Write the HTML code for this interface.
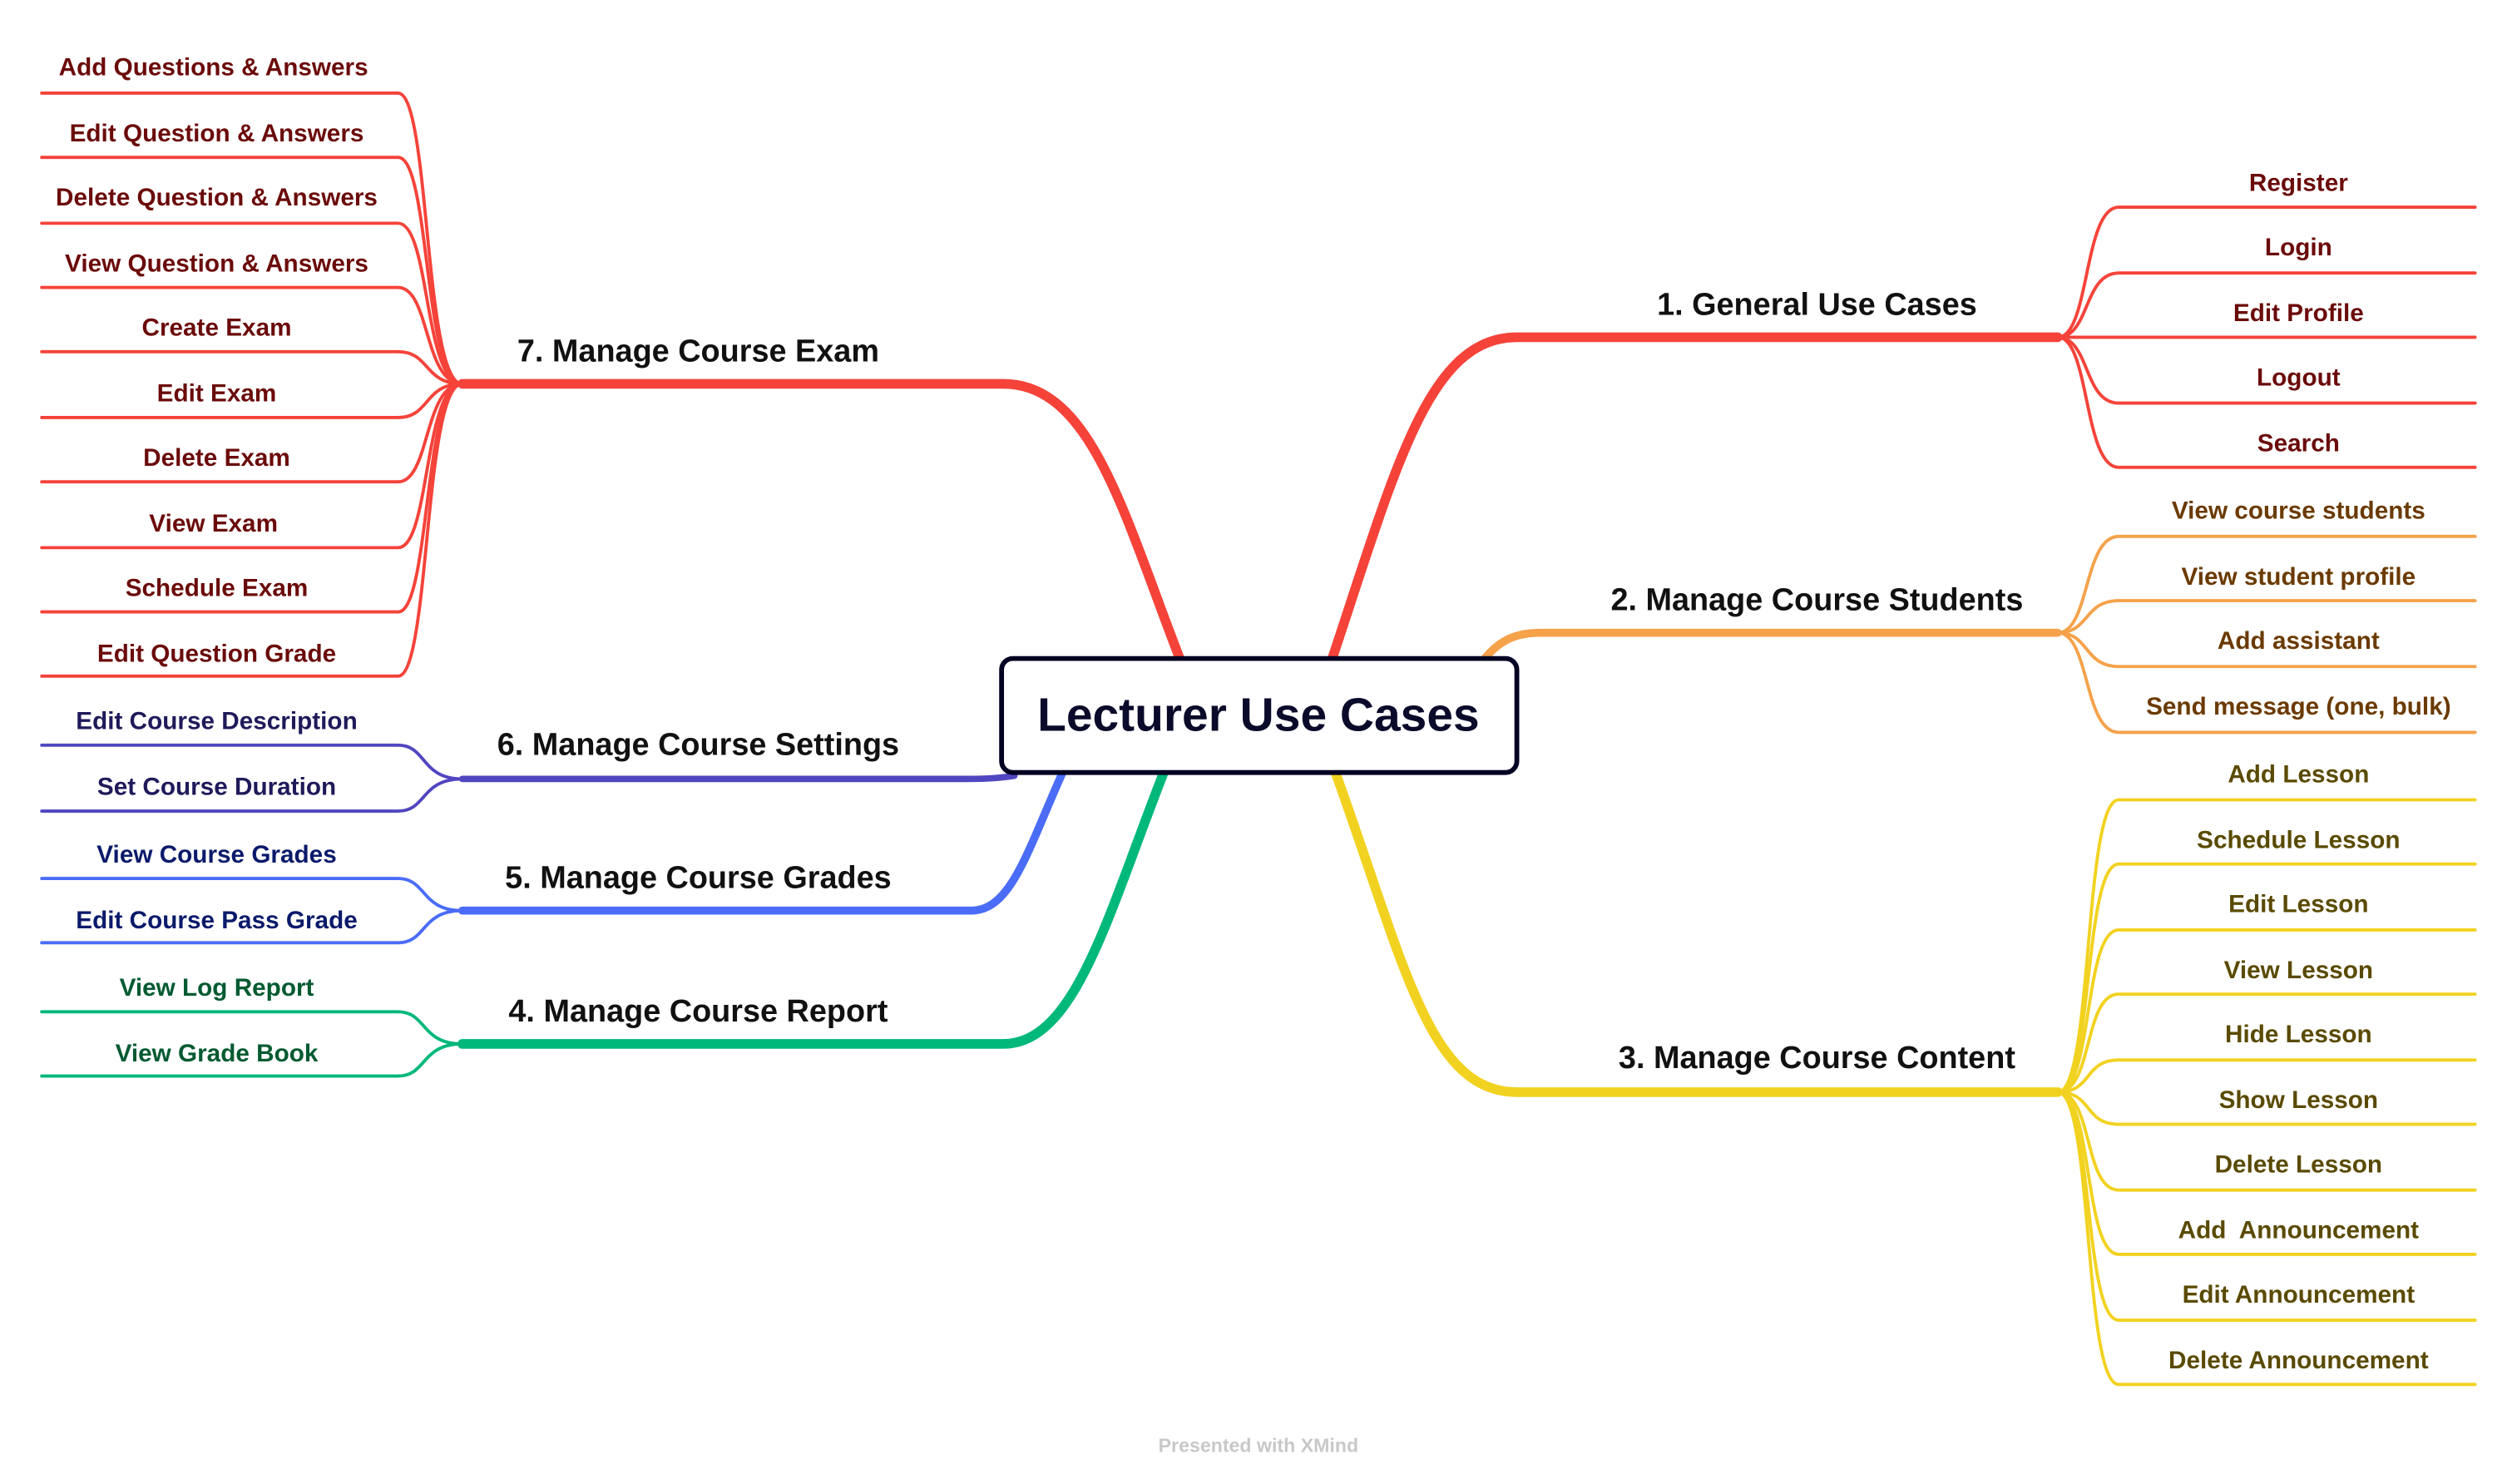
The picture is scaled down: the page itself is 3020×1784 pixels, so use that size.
<!DOCTYPE html>
<html><head><meta charset="utf-8"><style>
html,body{margin:0;padding:0;background:#fff}
svg{display:block}
text{font-family:"Liberation Sans",sans-serif;font-weight:bold;text-anchor:middle}
.l{font-size:15.4px}
.m{font-size:19.6px;fill:#111}
</style></head><body>
<svg width="3020" height="1784" viewBox="0 0 1565 924" preserveAspectRatio="none" xmlns="http://www.w3.org/2000/svg">
<g fill="none" stroke-linecap="round">
<path d="M830 410 C870 290,890 210,945 210 L1282 210" stroke="#f5433a" stroke-width="6"/>
<path d="M925 410 C935 398,945 394,960 394 L1282 394" stroke="#f5a24b" stroke-width="5"/>
<path d="M832 481 C875 600,890 680,945 680 L1282 680" stroke="#f2d220" stroke-width="6"/>
<path d="M735 410 C700 320,680 239,625 239 L288 239" stroke="#f5433a" stroke-width="6"/>
<path d="M632 483 C620 485,610 485,595 485 L288 485" stroke="#5046c0" stroke-width="4"/>
<path d="M662 481 C640 530,630 567,605 567 L288 567" stroke="#4a6cf7" stroke-width="5"/>
<path d="M725 481 C690 570,670 650,625 650 L288 650" stroke="#00b87a" stroke-width="6"/>
<g stroke="#f5433a" stroke-width="2">
<path d="M1282 210 C1302 210,1298 129,1320 129 L1542 129"/>
<path d="M1282 210 C1302 210,1298 170,1320 170 L1542 170"/>
<path d="M1282 210 L1542 210"/>
<path d="M1282 210 C1302 210,1298 251,1320 251 L1542 251"/>
<path d="M1282 210 C1302 210,1298 291,1320 291 L1542 291"/>
</g>
<g stroke="#f5a24b" stroke-width="2">
<path d="M1282 394 C1302 394,1298 334,1320 334 L1542 334"/>
<path d="M1282 394 C1302 394,1298 374,1320 374 L1542 374"/>
<path d="M1282 394 C1302 394,1298 415,1320 415 L1542 415"/>
<path d="M1282 394 C1302 394,1298 456,1320 456 L1542 456"/>
</g>
<g stroke="#f2d220" stroke-width="2">
<path d="M1282 680 C1304 680,1298 498,1320 498 L1542 498"/>
<path d="M1282 680 C1304 680,1298 538,1320 538 L1542 538"/>
<path d="M1282 680 C1304 680,1298 579,1320 579 L1542 579"/>
<path d="M1282 680 C1304 680,1298 619,1320 619 L1542 619"/>
<path d="M1282 680 C1304 680,1298 660,1320 660 L1542 660"/>
<path d="M1282 680 C1304 680,1298 700,1320 700 L1542 700"/>
<path d="M1282 680 C1304 680,1298 741,1320 741 L1542 741"/>
<path d="M1282 680 C1304 680,1298 781,1320 781 L1542 781"/>
<path d="M1282 680 C1304 680,1298 822,1320 822 L1542 822"/>
<path d="M1282 680 C1304 680,1298 862,1320 862 L1542 862"/>
</g>
<g stroke="#f5433a" stroke-width="2">
<path d="M26 58 L248 58 C268 58,264 239,288 239"/>
<path d="M26 98 L248 98 C268 98,264 239,288 239"/>
<path d="M26 139 L248 139 C268 139,264 239,288 239"/>
<path d="M26 179 L248 179 C268 179,264 239,288 239"/>
<path d="M26 219 L248 219 C268 219,264 239,288 239"/>
<path d="M26 260 L248 260 C268 260,264 239,288 239"/>
<path d="M26 300 L248 300 C268 300,264 239,288 239"/>
<path d="M26 341 L248 341 C268 341,264 239,288 239"/>
<path d="M26 381 L248 381 C268 381,264 239,288 239"/>
<path d="M26 421 L248 421 C268 421,264 239,288 239"/>
</g>
<g stroke="#5046c0" stroke-width="2">
<path d="M26 464 L248 464 C266 464,262 485,288 485"/>
<path d="M26 505 L248 505 C266 505,262 485,288 485"/>
</g>
<g stroke="#4a6cf7" stroke-width="2">
<path d="M26 547 L248 547 C266 547,262 567,288 567"/>
<path d="M26 587 L248 587 C266 587,262 567,288 567"/>
</g>
<g stroke="#00b87a" stroke-width="2">
<path d="M26 630 L248 630 C266 630,262 650,288 650"/>
<path d="M26 670 L248 670 C266 670,262 650,288 650"/>
</g>
</g>
<rect x="624" y="410" width="321" height="71" rx="7" fill="#fff" stroke="#000022" stroke-width="3"/>
<text x="784" y="455" style="font-size:29.5px" fill="#0a0a2a">Lecturer Use Cases</text>
<text class="m" x="1132" y="196">1. General Use Cases</text>
<text class="m" x="1132" y="380">2. Manage Course Students</text>
<text class="m" x="1132" y="665">3. Manage Course Content</text>
<text class="m" x="435" y="225">7. Manage Course Exam</text>
<text class="m" x="435" y="470">6. Manage Course Settings</text>
<text class="m" x="435" y="553">5. Manage Course Grades</text>
<text class="m" x="435" y="636">4. Manage Course Report</text>
<g fill="#6b0a0a">
<text class="l" x="1432" y="119">Register</text>
<text class="l" x="1432" y="159">Login</text>
<text class="l" x="1432" y="200">Edit Profile</text>
<text class="l" x="1432" y="240">Logout</text>
<text class="l" x="1432" y="281">Search</text>
</g>
<g fill="#6b3a00">
<text class="l" x="1432" y="323">View course students</text>
<text class="l" x="1432" y="364">View student profile</text>
<text class="l" x="1432" y="404">Add assistant</text>
<text class="l" x="1432" y="445">Send message (one, bulk)</text>
</g>
<g fill="#5a4a00">
<text class="l" x="1432" y="487">Add Lesson</text>
<text class="l" x="1432" y="528">Schedule Lesson</text>
<text class="l" x="1432" y="568">Edit Lesson</text>
<text class="l" x="1432" y="609">View Lesson</text>
<text class="l" x="1432" y="649">Hide Lesson</text>
<text class="l" x="1432" y="690">Show Lesson</text>
<text class="l" x="1432" y="730">Delete Lesson</text>
<text class="l" x="1432" y="771">Add&#160; Announcement</text>
<text class="l" x="1432" y="811">Edit Announcement</text>
<text class="l" x="1432" y="852">Delete Announcement</text>
</g>
<g fill="#6b0a0a">
<text class="l" x="133" y="47">Add Questions &amp; Answers</text>
<text class="l" x="135" y="88">Edit Question &amp; Answers</text>
<text class="l" x="135" y="128">Delete Question &amp; Answers</text>
<text class="l" x="135" y="169">View Question &amp; Answers</text>
<text class="l" x="135" y="209">Create Exam</text>
<text class="l" x="135" y="250">Edit Exam</text>
<text class="l" x="135" y="290">Delete Exam</text>
<text class="l" x="133" y="331">View Exam</text>
<text class="l" x="135" y="371">Schedule Exam</text>
<text class="l" x="135" y="412">Edit Question Grade</text>
</g>
<g fill="#1e1a5a">
<text class="l" x="135" y="454">Edit Course Description</text>
<text class="l" x="135" y="495">Set Course Duration</text>
</g>
<g fill="#0a1a6b">
<text class="l" x="135" y="537">View Course Grades</text>
<text class="l" x="135" y="578">Edit Course Pass Grade</text>
</g>
<g fill="#005a30">
<text class="l" x="135" y="620">View Log Report</text>
<text class="l" x="135" y="661">View Grade Book</text>
</g>
<text x="784" y="904" style="font-size:12px" fill="#c8c8c8">Presented with XMind</text>
</svg>
</body></html>
